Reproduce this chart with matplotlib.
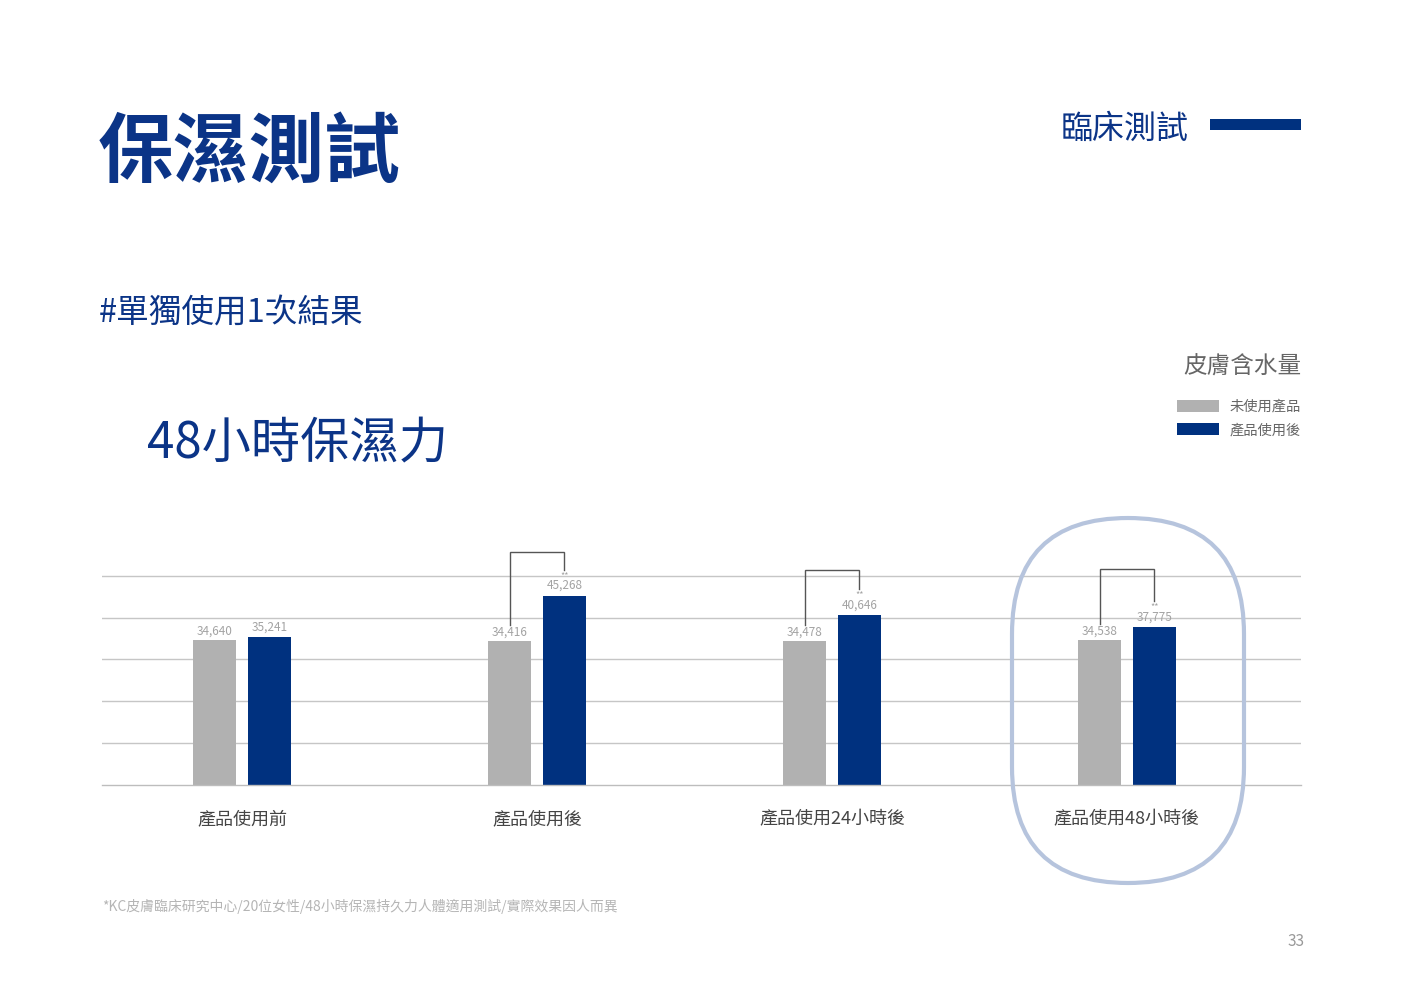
import matplotlib
matplotlib.use("Agg")
import matplotlib.pyplot as plt
from matplotlib.patches import FancyBboxPatch, Rectangle
import numpy as np

plt.rcParams['font.family'] = ['Noto Sans CJK TC', 'DejaVu Sans']

# ---- data ----
categories = ['產品使用前', '產品使用後', '產品使用24小時後', '產品使用48小時後']
before_vals = [34640, 34416, 34478, 34538]
after_vals = [35241, 45268, 40646, 37775]
significant = [False, True, True, True]
series_names = ['未使用產品', '產品使用後']
grid_vals = [10000, 20000, 30000, 40000, 50000]

W, H = 1404, 993
DPI = 100
fig = plt.figure(figsize=(W / DPI, H / DPI), dpi=DPI)
fig.patch.set_facecolor('white')

BLUE = '#00317f'
TITLE_BLUE = '#0b3487'
GRAY = '#b1b1b1'

def fx(x):
    return x / W

def fy(y):
    return 1 - y / H

# axes geometry in pixels
px_per_unit = 145.0 / 34640
ymax = 57500
base_px = 785
top_px = base_px - ymax * px_per_unit
left_px, right_px = 102, 1301
ax = fig.add_axes([fx(left_px), fy(base_px), (right_px - left_px) / W, (base_px - top_px) / H])
ax.set_xlim(-0.475, 3.59)
ax.set_ylim(0, ymax)
ax.axis('off')

for g in grid_vals:
    ax.axhline(g, color='#c6c6c6', lw=1.0, zorder=0)
ax.axhline(0, color='#bdbdbd', lw=1.0, zorder=3, clip_on=False)

x = np.arange(len(categories))
off = 0.093
bw = 0.146
ax.bar(x - off, before_vals, width=bw, color=GRAY, zorder=2)
ax.bar(x + off, after_vals, width=bw, color=BLUE, zorder=2)

u = 1.0 / px_per_unit  # data units per pixel
lab_color = '#a3a3a3'
for i in range(len(categories)):
    ax.text(x[i] - off, before_vals[i] + 9 * u, f'{before_vals[i]:,}', ha='center', va='center',
            fontsize=8.5, color=lab_color)
    ax.text(x[i] + off, after_vals[i] + 10 * u, f'{after_vals[i]:,}', ha='center', va='center',
            fontsize=8.5, color=lab_color)
    if significant[i]:
        ax.text(x[i] + off, after_vals[i] + 20 * u, '**', ha='center', va='center',
                fontsize=6.5, color=lab_color)

# significance brackets
top_offsets = [None, 44, 45, 58]
for i in range(len(categories)):
    if not significant[i]:
        continue
    top = after_vals[i] + top_offsets[i] * u
    lb = before_vals[i] + 16 * u
    rb = after_vals[i] + 26 * u
    ax.plot([x[i] - off, x[i] - off, x[i] + off, x[i] + off], [lb, top, top, rb],
            color='#555555', lw=1.0, zorder=3, clip_on=False, solid_joinstyle='miter')

# category labels
for i, c in enumerate(categories):
    ax.text(x[i], -34 * u, c, ha='center', va='center', fontsize=13, color='#444444', clip_on=False)

# stadium highlight
stadium = FancyBboxPatch(((1012) / DPI, (H - 883) / DPI), (1244 - 1012) / DPI, (883 - 518) / DPI,
                         boxstyle='round,pad=0,rounding_size=1.16', transform=fig.dpi_scale_trans,
                         facecolor='none', edgecolor='#b6c4dd', lw=3.0, zorder=5)
fig.patches.append(stadium)

# titles
fig.text(fx(98), fy(153), '保濕測試', fontsize=54.5, fontweight='bold', color=TITLE_BLUE,
         ha='left', va='center')
fig.text(fx(1189), fy(129), '臨床測試', fontsize=23, color=TITLE_BLUE, ha='right', va='center')
fig.patches.append(Rectangle((fx(1210), fy(130)), fx(1301) - fx(1210), fy(119) - fy(130),
                             transform=fig.transFigure, facecolor=BLUE, edgecolor='none'))
fig.text(fx(99), fy(314), '#單獨使用1次結果', fontsize=23.5, color=TITLE_BLUE, ha='left', va='center')
fig.text(fx(147), fy(444), '48小時保濕力', fontsize=35.5, color=TITLE_BLUE, ha='left', va='center')

# legend
fig.text(fx(1301), fy(367), '皮膚含水量', fontsize=17, color='#666666', ha='right', va='center')
leg_colors = [GRAY, BLUE]
leg_y = [406, 429]
for name, col, yy in zip(series_names, leg_colors, leg_y):
    fig.patches.append(Rectangle((fx(1177), fy(yy + 6)), fx(1219) - fx(1177), fy(yy - 6) - fy(yy + 6),
                                 transform=fig.transFigure, facecolor=col, edgecolor='none'))
    fig.text(fx(1301), fy(yy + 1), name, fontsize=10.3, color='#666666', ha='right', va='center')

# footnote and page number
fig.text(fx(102), fy(906), '*KC皮膚臨床研究中心/20位女性/48小時保濕持久力人體適用測試/實際效果因人而異',
         fontsize=10, color='#b5b5b5', ha='left', va='center')
fig.text(fx(1305), fy(942), '33', fontsize=11, color='#999999', ha='right', va='center')

fig.savefig('out.png', dpi=DPI, facecolor='white')
